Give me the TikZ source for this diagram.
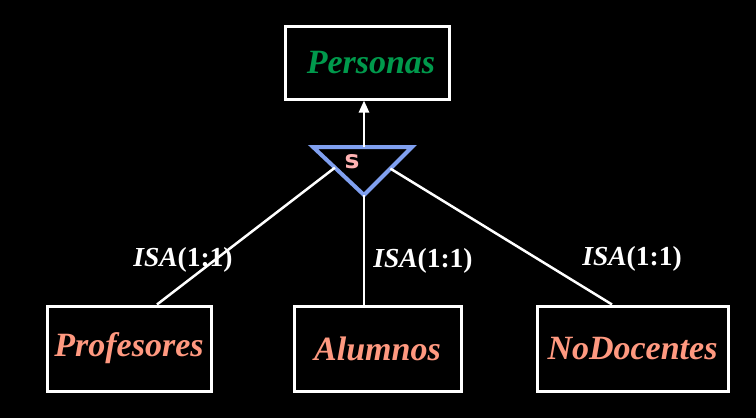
\documentclass[tikz,border=0pt]{standalone}
\usepackage{fontspec}
\setmainfont{Liberation Serif}
\setsansfont{DejaVu Sans}
\usetikzlibrary{arrows.meta,calc}
\definecolor{verde}{RGB}{0,153,76}
\definecolor{salmon}{RGB}{255,153,128}
\definecolor{rosa}{RGB}{255,178,178}
\definecolor{azul}{RGB}{128,160,240}

\begin{document}
\begin{tikzpicture}[x=1pt,y=-1pt]
\useasboundingbox[fill=black] (0,0) rectangle (756,418);
\begin{scope}[every node/.style={rectangle,draw=white,line width=3pt,inner sep=0pt,
              font=\fontsize{34}{38}\selectfont\bfseries\itshape}]
    \node[minimum width=164pt,minimum height=73pt,text=verde] (personas) at (367.0, 62.5) {\hspace{8pt}Personas};
    \node[minimum width=164pt,minimum height=85pt,text=salmon] (profesores) at (129.0, 348.5) {Profesores};
    \node[minimum width=167pt,minimum height=85pt,text=salmon] (alumnos) at (377.5, 348.5) {Alumnos};
    \node[minimum width=191pt,minimum height=85pt,text=salmon] (nodocentes) at (632.5, 348.5) {NoDocentes};
\end{scope}
% triangulo de especializacion
\coordinate (tl) at (313, 147);
\coordinate (tr) at (412, 147);
\coordinate (tb) at (364, 195);
\coordinate (tt) at (364, 147);
\draw[azul,line width=4pt,line join=miter] (tl) -- (tr) -- (tb) -- cycle;
\node[text=rosa,font=\fontsize{25}{27}\selectfont\sffamily\bfseries] (s) at (352, 162) {s};
\begin{scope}[>={Triangle[width=10pt,length=12pt,white]},
              every node/.style={text=white,font=\fontsize{27.5}{30}\selectfont\bfseries},
              isa_edge/.style={draw=white,line width=2.5pt}]
    \path [->] (tt) edge [isa_edge] (tt |- personas.south);
    \path (profesores.north -| 157,0) edge [isa_edge] ($(tl)!0.43!(tb)$);
    \path (tb) edge [isa_edge] (alumnos.north -| 364,0);
    \path (nodocentes.north -| 612,0) edge [isa_edge] ($(tr)!0.45!(tb)$);
    \node (isa1) at (183, 260) {\textit{ISA}(1:1)};
    \node (isa2) at (423, 261) {\textit{ISA}(1:1)};
    \node (isa3) at (632, 259) {\textit{ISA}(1:1)};
\end{scope}
\end{tikzpicture}
\end{document}
